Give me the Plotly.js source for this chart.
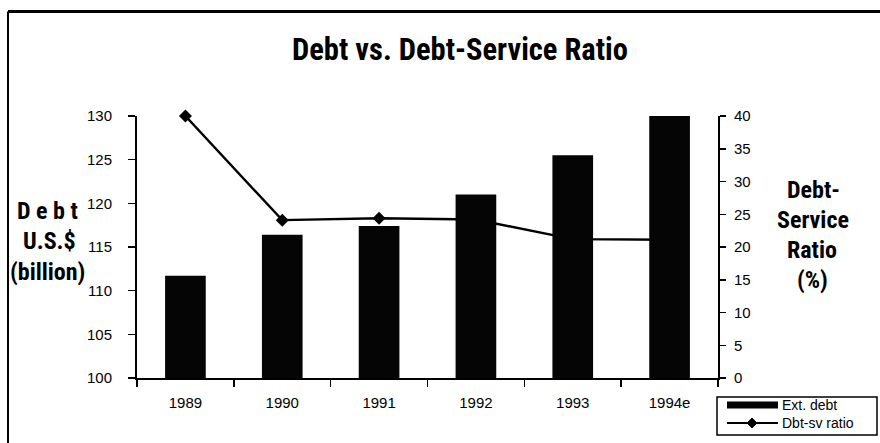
<!DOCTYPE html>
<html>
<head>
<meta charset="utf-8">
<script src="https://cdn.plot.ly/plotly-3.0.1.min.js"></script>
<style>html,body{margin:0;padding:0;background:#fff;}#chart{width:880px;height:443px;}</style>
</head>
<body>
<div id="chart"></div>
<script>
const years = ["1989", "1990", "1991", "1992", "1993", "1994e"];
const extDebt = [111.7, 116.4, 117.4, 121.0, 125.5, 130.2];
const dbtSvRatio = [40, 24.1, 24.4, 24.2, 21.2, 21.1];
const leftTicks = [100, 105, 110, 115, 120, 125, 130];
const rightTicks = [0, 5, 10, 15, 20, 25, 30, 35, 40];
const seriesNames = ["Ext. debt", "Dbt-sv ratio"];

const W = 880, H = 443, L = 137, R = 162, T = 116, B = 65;
const pw = W - L - R, ph = H - T - B;
const px = x => (x - L) / pw;
const py = y => (H - B - y) / ph;

const condFont = "Roboto Condensed, Open Sans Condensed, sans-serif";
const tickFont = {family: "Liberation Sans, Arial", size: 15, color: "#000"};

const traces = [
  {
    type: "scatter", mode: "lines+markers", name: seriesNames[1],
    x: years, y: dbtSvRatio, xaxis: "x", yaxis: "y",
    line: {color: "#000", width: 2.4},
    marker: {symbol: "diamond", size: 10, color: "#000"},
    cliponaxis: false, showlegend: false
  },
  {
    type: "bar", name: seriesNames[0],
    x: years, y: extDebt, xaxis: "x", yaxis: "y2",
    marker: {color: "#050505", line: {width: 0}},
    width: 0.42, cliponaxis: false, showlegend: false
  }
];

const axisCommon = {
  showline: true, linecolor: "#000", linewidth: 2,
  ticks: "outside", tickcolor: "#000", tickwidth: 1.5,
  showgrid: false, zeroline: false, tickfont: tickFont, fixedrange: true,
  automargin: false
};

// custom legend (box, swatches, labels) placed below-right of the plot
const lgX0 = 717, lgX1 = 877, lgY0 = 397, lgY1 = 435;
const sw0 = 727, sw1 = 778, row1 = 405, row2 = 423;
const dm = 5; // diamond half-size in px
const diamondPath = "M " + px(752 - dm) + " " + py(row2) +
  " L " + px(752) + " " + py(row2 - dm) +
  " L " + px(752 + dm) + " " + py(row2) +
  " L " + px(752) + " " + py(row2 + dm) + " Z";

const layout = {
  width: W, height: H,
  margin: {l: L, r: R, t: T, b: B, autoexpand: false},
  paper_bgcolor: "#fff", plot_bgcolor: "rgba(0,0,0,0)",
  showlegend: false,
  title: {
    text: "Debt vs. Debt-Service Ratio",
    font: {family: condFont, size: 30.5, weight: "bold", color: "#000"},
    x: 460 / W, xref: "container", xanchor: "center",
    y: 1 - 49 / H, yref: "container", yanchor: "middle"
  },
  xaxis: Object.assign({}, axisCommon, {
    type: "category", range: [-0.5, 5.5], tickson: "boundaries",
    ticklen: 7, ticklabelstandoff: 10
  }),
  yaxis: Object.assign({}, axisCommon, {
    side: "right", range: [0, 40], tickvals: rightTicks,
    ticklen: 6, ticklabelstandoff: 5
  }),
  yaxis2: Object.assign({}, axisCommon, {
    side: "left", overlaying: "y", anchor: "x", range: [100, 130], tickvals: leftTicks,
    ticklen: 7, ticklabelstandoff: 13
  }),
  annotations: [
    {text: "D e b t", x: px(47), y: py(211)},
    {text: "U.S.$", x: px(49), y: py(241)},
    {text: "(billion)", x: px(47), y: py(272)},
    {text: "Debt-", x: px(813), y: py(190)},
    {text: "Service", x: px(813), y: py(220)},
    {text: "Ratio", x: px(812), y: py(250)},
    {text: "(%)", x: px(812), y: py(280)}
  ].map(a => Object.assign({
    xref: "paper", yref: "paper", showarrow: false,
    xanchor: "center", yanchor: "middle",
    font: {family: condFont, size: 24, weight: "bold", color: "#000"}
  }, a)).concat([
    {text: seriesNames[0], y: py(row1)},
    {text: seriesNames[1], y: py(row2)}
  ].map(a => Object.assign({
    xref: "paper", yref: "paper", showarrow: false, x: px(780),
    xanchor: "left", yanchor: "middle",
    font: {family: "Liberation Sans, Arial", size: 14, color: "#000"}
  }, a))),
  shapes: [
    {type: "line", xref: "paper", yref: "paper", x0: px(8), x1: px(880), y0: py(11.5), y1: py(11.5), line: {color: "#000", width: 3}},
    {type: "line", xref: "paper", yref: "paper", x0: px(8), x1: px(8), y0: py(11.5), y1: py(443), line: {color: "#000", width: 2}},
    {type: "rect", xref: "paper", yref: "paper", x0: px(lgX0), x1: px(lgX1), y0: py(lgY0), y1: py(lgY1), line: {color: "#000", width: 1.5}, fillcolor: "#fff", layer: "above"},
    {type: "rect", xref: "paper", yref: "paper", x0: px(sw0), x1: px(sw1), y0: py(row1 - 3.5), y1: py(row1 + 3.5), line: {width: 0}, fillcolor: "#050505", layer: "above"},
    {type: "line", xref: "paper", yref: "paper", x0: px(sw0), x1: px(sw1), y0: py(row2), y1: py(row2), line: {color: "#000", width: 2}, layer: "above"},
    {type: "path", xref: "paper", yref: "paper", path: diamondPath, fillcolor: "#000", line: {color: "#000", width: 1}, layer: "above"}
  ]
};

Plotly.newPlot("chart", traces, layout, {displayModeBar: false, staticPlot: true});
</script>
</body>
</html>
